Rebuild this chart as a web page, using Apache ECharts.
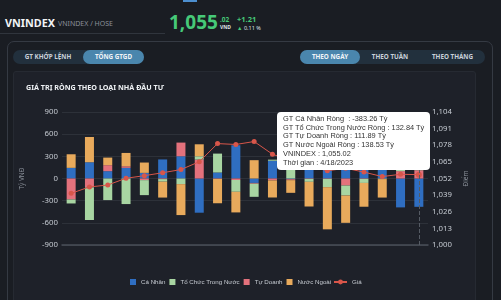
<!DOCTYPE html>
<html>
<head>
<meta charset="utf-8">
<script src="https://cdn.jsdelivr.net/npm/echarts@6/dist/echarts.min.js"></script>
<style>
  html,body{margin:0;padding:0;width:501px;height:300px;overflow:hidden;background:#1a1d23;font-family:"Noto Sans",sans-serif;}
  .abs{position:absolute;white-space:nowrap;}
  #card{position:absolute;left:7px;top:41px;width:484px;height:270px;border:1px solid #353a43;border-radius:7px;}
  #panel{position:absolute;left:13px;top:71px;width:461px;height:240px;background:#1e2129;border:1px solid #262a32;border-radius:3px;}
  .pill{position:absolute;height:14px;border-radius:7px;background:#22303d;}
  .pbtn{position:absolute;top:0;height:14px;line-height:14px;font-size:6.3px;font-weight:700;color:#c9d1da;text-align:center;border-radius:7px;}
  .pbtn.on{background:#4a86ad;color:#f1f5f8;}
  #chart{position:absolute;left:0;top:0;width:501px;height:300px;}
</style>
</head>
<body>
<div class="abs" style="left:183px;top:0;width:14px;height:2px;background:#4d8fd0;"></div>
<div class="abs" style="left:5px;top:15px;font-size:10.8px;font-weight:700;color:#f2f4f6;">VNINDEX</div>
<div class="abs" style="left:58px;top:19px;font-size:7px;color:#8a9099;">VNINDEX / HOSE</div>
<div class="abs" style="left:0;top:33px;width:165px;height:1px;background:#30353d;"></div>
<div class="abs" style="left:169px;top:9px;font-size:19px;font-weight:700;color:#46c978;">1,055</div>
<div class="abs" style="left:220px;top:15px;font-size:6.5px;font-weight:700;color:#46c978;">.02</div>
<div class="abs" style="left:220px;top:24px;font-size:5px;font-weight:700;color:#dfe3e7;">VND</div>
<div class="abs" style="left:237px;top:14px;font-size:7.5px;font-weight:700;color:#46c978;">+1.21</div>
<div class="abs" style="left:237px;top:24px;font-size:5.5px;color:#dfe3e7;"><span style="color:#46c978;">▲</span> 0.11 %</div>

<div id="card"></div>
<div id="panel"></div>

<div class="pill" style="left:13px;top:50px;width:131px;">
  <div class="pbtn" style="left:0;width:70px;">GT KHỚP LỆNH</div>
  <div class="pbtn on" style="left:70px;width:61px;">TỔNG GTGD</div>
</div>
<div class="pill" style="left:300px;top:50px;width:185px;">
  <div class="pbtn on" style="left:0;width:60px;">THEO NGÀY</div>
  <div class="pbtn" style="left:62px;width:56px;">THEO TUẦN</div>
  <div class="pbtn" style="left:120px;width:65px;">THEO THÁNG</div>
</div>

<div id="chart"></div>
<script>
// ---- data ----
const dates = ['3/22/2023','3/23/2023','3/24/2023','3/27/2023','3/28/2023','3/29/2023','3/30/2023','3/31/2023','4/3/2023','4/4/2023',
               '4/5/2023','4/6/2023','4/7/2023','4/10/2023','4/11/2023','4/12/2023','4/13/2023','4/14/2023','4/17/2023','4/18/2023'];
const caNhan    = [144, 220, 99, 144, 76, 258, 301, -463, 81, 450, -60, 240, -10, 374, 688, 600, 382, 258, -391, -383.26];
const toChuc    = [-54, -441, -292, -346, -203, -35, -76, 45, 256, -160, -178, 15, 194, -40, -112, -135, -55, -5, 150, 132.84];
const tuDoanh   = [-284, -121, 81, 22, -22, -8, 185, 256, -5, -20, -10, -25, -12, -5, -5, -95, -5, -3, 100, 111.89];
const nuocNgoai = [184, 342, 103, 180, 140, -215, -419, 162, -330, -279, 248, -232, -172, -334, -571, -370, -322, -250, 141, 138.53];
const vnindex   = [1040.4, 1045.4, 1046.9, 1052.2, 1054.2, 1056.5, 1059.0, 1065.1, 1079.3, 1078.6,
                   1080.9, 1071.0, 1066.0, 1062.0, 1058.0, 1060.0, 1057.0, 1053.5, 1055.3, 1055.02];
const leftAxis  = {min: -900, max: 900, interval: 300};
const rightAxis = {min: 1000, max: 1104, interval: 13};
const names = {caNhan: 'Cá Nhân', toChuc: 'Tổ Chức Trong Nước', tuDoanh: 'Tự Doanh', nuocNgoai: 'Nước Ngoài', gia: 'Giá'};

const colors = {caNhan: '#2f6ec1', toChuc: '#a8d5a2', tuDoanh: '#e3717c', nuocNgoai: '#e8aa5c', gia: '#d8564a'};
const fmt2 = v => v.toFixed(2);
const fmtIdx = v => v.toLocaleString('en-US', {minimumFractionDigits: 2, maximumFractionDigits: 2});

const chart = echarts.init(document.getElementById('chart'), null, {renderer: 'canvas'});
const axisFont = {color: '#c5cad1', fontSize: 7.8, fontFamily: 'Noto Sans'};
const legendFont = {color: '#c5cad1', fontSize: 6.2, fontFamily: 'Liberation Sans'};
function barSeries(key, data) {
  return {name: names[key], type: 'bar', stack: 'net', data: data, barWidth: 9,
          itemStyle: {color: colors[key]}, emphasis: {disabled: true}};
}
chart.setOption({
  animation: false,
  backgroundColor: 'transparent',
  title: {text: 'GIÁ TRỊ RÒNG THEO LOẠI NHÀ ĐẦU TƯ', left: 21, top: 79,
          textStyle: {color: '#eef1f4', fontSize: 7.2, fontWeight: 'bold', fontFamily: 'Noto Sans'}},
  grid: {left: 62, right: 73, top: 112, bottom: 55},
  legend: [
    {data: [names.caNhan, names.toChuc, names.tuDoanh, names.nuocNgoai], left: 130, top: 279, padding: 0,
     itemWidth: 6, itemHeight: 6, itemGap: 4, icon: 'rect', textStyle: legendFont},
    {data: [names.gia], left: 333, top: 279, padding: 0, itemWidth: 13, itemHeight: 6, textStyle: legendFont}
  ],
  tooltip: {
    trigger: 'axis', alwaysShowContent: true, transitionDuration: 0,
    position: function () { return [277, 112]; },
    backgroundColor: '#ffffff', borderWidth: 0, borderRadius: 4, padding: [3, 6],
    textStyle: {color: '#333', fontSize: 7.4, fontFamily: 'Liberation Sans'},
    extraCssText: 'line-height:8.7px;box-shadow:none;',
    axisPointer: {type: 'line', lineStyle: {color: '#555b64', width: 1}},
    formatter: function (params) {
      const i = params[0].dataIndex;
      return 'GT Cá Nhân Ròng&nbsp; : ' + fmt2(caNhan[i]) + ' Tỷ<br/>' +
             'GT Tổ Chức Trong Nước Ròng : ' + fmt2(toChuc[i]) + ' Tỷ<br/>' +
             'GT Tự Doanh Ròng : ' + fmt2(tuDoanh[i]) + ' Tỷ<br/>' +
             'GT Nước Ngoài Ròng : ' + fmt2(nuocNgoai[i]) + ' Tỷ<br/>' +
             'VNINDEX : ' + fmtIdx(vnindex[i]) + '<br/>' +
             'Thời gian : ' + dates[i];
    }
  },
  xAxis: {type: 'category', data: dates, axisLabel: {show: false}, axisTick: {show: false},
          axisLine: {onZero: false, lineStyle: {color: '#4a4f58', width: 1.5}}},
  yAxis: [
    {type: 'value', min: leftAxis.min, max: leftAxis.max, interval: leftAxis.interval,
     name: 'Tỷ VNĐ', nameLocation: 'middle', nameGap: 36,
     nameTextStyle: {color: '#8a9099', fontSize: 6.5, fontFamily: 'Noto Sans'},
     axisLabel: Object.assign({margin: 4}, axisFont),
     splitLine: {lineStyle: {color: '#2d3139'}}, axisLine: {show: false}, axisTick: {show: false}},
    {type: 'value', min: rightAxis.min, max: rightAxis.max, interval: rightAxis.interval, position: 'right',
     name: 'Điểm', nameLocation: 'middle', nameGap: 33,
     nameTextStyle: {color: '#8a9099', fontSize: 6.5, fontFamily: 'Noto Sans'},
     axisLabel: Object.assign({margin: 4, formatter: v => v.toLocaleString('en-US')}, axisFont),
     splitLine: {show: false}, axisLine: {show: false}, axisTick: {show: false}}
  ],
  series: [
    barSeries('caNhan', caNhan),
    barSeries('tuDoanh', tuDoanh),
    barSeries('toChuc', toChuc),
    barSeries('nuocNgoai', nuocNgoai),
    {name: names.gia, type: 'line', yAxisIndex: 1, data: vnindex, z: 5,
     symbol: 'circle', symbolSize: 5, showAllSymbol: true,
     itemStyle: {color: colors.gia}, lineStyle: {color: colors.gia, width: 1}, emphasis: {disabled: true}}
  ]
});
chart.dispatchAction({type: 'showTip', seriesIndex: 0, dataIndex: dates.length - 1});
</script>
</body>
</html>
